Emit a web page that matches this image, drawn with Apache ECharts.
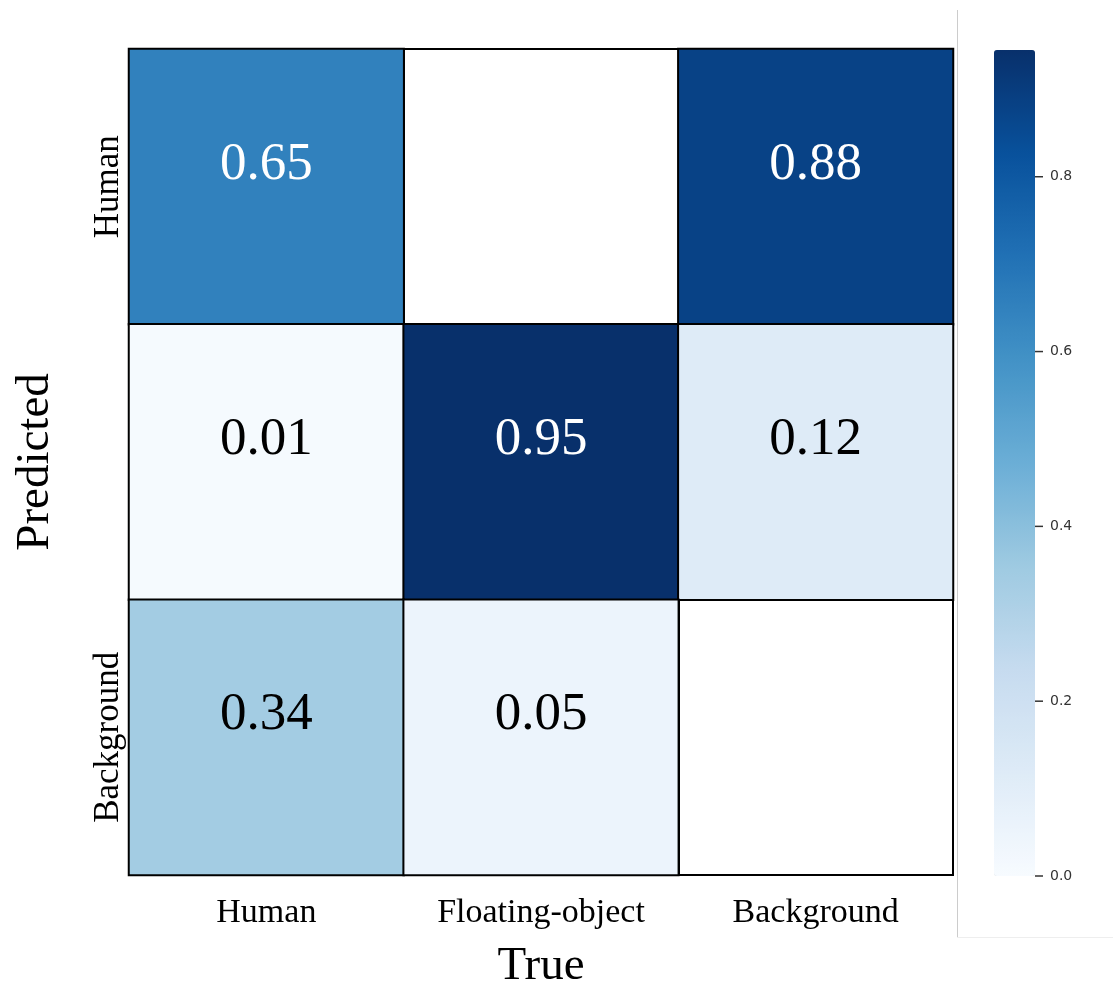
<!DOCTYPE html>
<html>
<head>
<meta charset="utf-8">
<script src="https://cdn.jsdelivr.net/npm/echarts@6/dist/echarts.min.js"></script>
<style>html,body{margin:0;padding:0;background:#fff}#c{width:1113px;height:983px}</style>
</head>
<body>
<div id="c"></div>
<script>
const trueLabels = ['Human', 'Floating-object', 'Background'];
const predLabels = ['Human', 'Floating-object', 'Background'];
// rows = predicted, columns = true; null = empty (masked) cell
const rowHuman = [0.65, null, 0.88];
const rowFloating = [0.01, 0.95, 0.12];
const rowBackground = [0.34, 0.05, null];
const colorbarTicks = [0.0, 0.2, 0.4, 0.6, 0.8];
const vmin = 0, vmax = 0.945;

const rows = [rowHuman, rowFloating, rowBackground];
const blues = ['#f7fbff','#deebf7','#c6dbef','#9ecae1','#6baed6','#4292c6','#2171b5','#08519c','#08306b'];

const data = [];
rows.forEach((row, r) => {
  row.forEach((v, c) => {
    if (v === null) { data.push([c, r, '-']); return; }
    data.push({
      value: [c, r, v],
      label: { color: v > 0.5 ? '#ffffff' : '#000000' }
    });
  });
});

const chart = echarts.init(document.getElementById('c'));
chart.setOption({
  backgroundColor: '#ffffff',
  animation: false,
  grid: [
    { left: 129, top: 49, width: 824, height: 826, show: true, backgroundColor: '#ffffff', borderColor: '#000', borderWidth: 2,
      containLabel: false, outerBoundsMode: 'none' },
    { left: 994, top: 50, width: 41, height: 826, containLabel: false, outerBoundsMode: 'none' }
  ],
  xAxis: [
    {
      type: 'category', data: trueLabels, gridIndex: 0,
      name: 'True', nameLocation: 'middle', nameGap: 68,
      nameTextStyle: { fontFamily: 'Liberation Serif', fontSize: 47, color: '#000' },
      axisLine: { show: false }, axisTick: { show: false },
      axisLabel: { fontFamily: 'Liberation Serif', fontSize: 34, color: '#000', margin: 21 },
      splitLine: { show: true, lineStyle: { color: '#000', width: 2 } }
    },
    { type: 'value', gridIndex: 1, show: false, min: 0, max: 1 }
  ],
  yAxis: [
    {
      type: 'category', data: predLabels, gridIndex: 0, inverse: true,
      name: 'Predicted', nameLocation: 'middle', nameGap: 70, nameRotate: 90,
      nameTextStyle: { fontFamily: 'Liberation Serif', fontSize: 47, color: '#000' },
      axisLine: { show: false }, axisTick: { show: false },
      axisLabel: { fontFamily: 'Liberation Serif', fontSize: 35, color: '#000', rotate: 90, margin: 20, verticalAlign: 'middle', align: 'center' },
      splitLine: { show: true, lineStyle: { color: '#000', width: 2 } }
    },
    {
      type: 'value', gridIndex: 1, position: 'right', min: vmin, max: vmax, interval: 0.2,
      axisLine: { show: false },
      axisTick: { show: false },
      axisLabel: {
        fontFamily: 'DejaVu Sans', fontSize: 14, color: '#333', margin: 0, showMaxLabel: false, align: 'left',
        formatter: v => '{t|}{v|' + v.toFixed(1) + '}',
        rich: {
          t: { width: 8, height: 1.5, backgroundColor: '#333', verticalAlign: 'middle' },
          v: { fontFamily: 'DejaVu Sans', fontSize: 14, color: '#333', padding: [0, 0, 0, 7], verticalAlign: 'middle' }
        }
      },
      splitLine: { show: false }
    }
  ],
  visualMap: {
    type: 'continuous', min: vmin, max: vmax, seriesIndex: 0,
    calculable: false, orient: 'vertical', left: 994, top: 50, padding: 0, z: 1,
    itemWidth: 41, itemHeight: 826, text: null, showLabel: false,
    inRange: { color: blues }
  },
  series: [{
    type: 'heatmap', xAxisIndex: 0, yAxisIndex: 0, data: data,
    itemStyle: { borderColor: '#000', borderWidth: 2 },
    label: { show: true, fontFamily: 'Liberation Serif', fontSize: 53, offset: [0, -22],
      formatter: p => p.value[2].toFixed(2) },
    emphasis: { disabled: true }
  }],
  graphic: [
    { type: 'line', shape: { x1: 957.5, y1: 10, x2: 957.5, y2: 937 }, style: { stroke: '#cccccc', lineWidth: 1 } },
    { type: 'line', shape: { x1: 957, y1: 937.5, x2: 1113, y2: 937.5 }, style: { stroke: '#eeeeee', lineWidth: 1 } }
  ]
});
</script>
</body>
</html>
